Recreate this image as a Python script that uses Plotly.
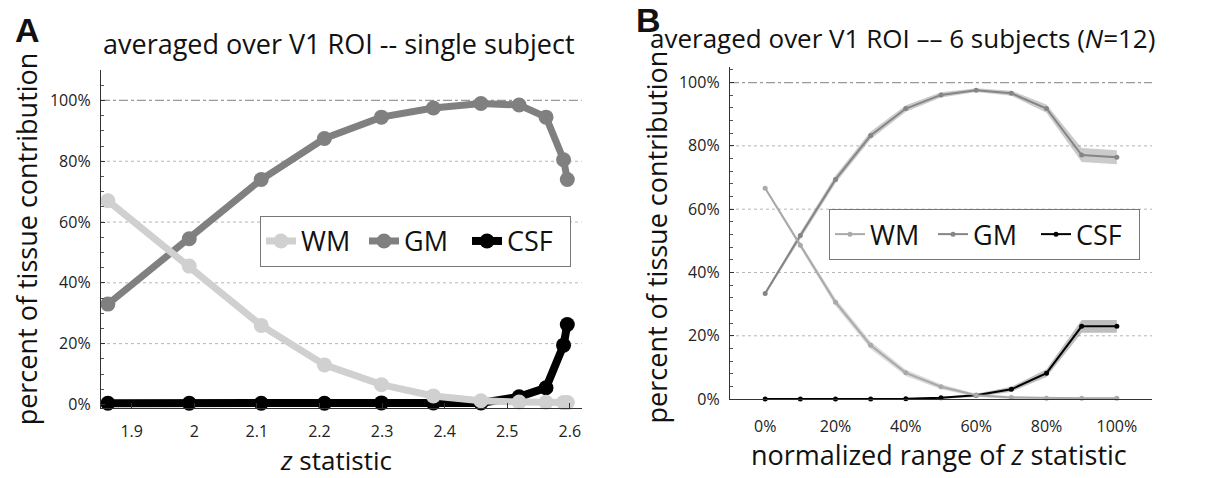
import plotly.graph_objects as go

W, H = 1219, 478

# ---------------- Panel A data (single subject) ----------------
z_A = [1.862, 1.992, 2.107, 2.208, 2.299, 2.382, 2.458, 2.519, 2.562, 2.590, 2.596]
wm_A = [67.0, 45.5, 26.0, 13.0, 6.5, 2.8, 1.2, 0.8, 0.7, 0.6, 0.6]
gm_A = [33.0, 54.5, 74.0, 87.5, 94.5, 97.5, 99.0, 98.5, 94.5, 80.5, 74.0]
csf_A = [0.4, 0.4, 0.4, 0.4, 0.5, 0.5, 0.5, 2.5, 5.5, 19.5, 26.3]

xtick_vals_A = [1.9, 2.0, 2.1, 2.2, 2.3, 2.4, 2.5, 2.6]
xtick_text_A = ["1.9", "2", "2.1", "2.2", "2.3", "2.4", "2.5", "2.6"]

# ---------------- Panel B data (6 subjects) ----------------
pct_B = [0, 10, 20, 30, 40, 50, 60, 70, 80, 90, 100]
wm_B = [66.6, 48.6, 30.6, 17.0, 8.3, 3.9, 1.2, 0.5, 0.3, 0.3, 0.3]
gm_B = [33.4, 51.7, 69.4, 83.3, 91.8, 96.1, 97.6, 96.6, 91.8, 77.1, 76.4]
csf_B = [0.0, 0.0, 0.0, 0.0, 0.1, 0.4, 1.2, 3.1, 8.2, 23.0, 23.0]
wm_sem = [0.5, 1.0, 1.2, 1.2, 1.0, 0.8, 0.5, 0.4, 0.3, 0.3, 0.3]
gm_sem = [0.5, 1.0, 1.2, 1.2, 1.0, 0.8, 0.6, 0.8, 1.3, 2.2, 2.2]
csf_sem = [0.1, 0.1, 0.1, 0.1, 0.2, 0.3, 0.5, 0.8, 1.2, 2.0, 2.0]

xtick_vals_B = [0, 20, 40, 60, 80, 100]
xtick_text_B = ["0%", "20%", "40%", "60%", "80%", "100%"]

ytick_vals = [0, 20, 40, 60, 80, 100]
ytick_text = ["0%", "20%", "40%", "60%", "80%", "100%"]

FONT = "Open Sans"
C_WM_A, C_GM_A, C_CSF_A = "#d0d0d0", "#808080", "#000000"
C_WM_B, C_GM_B, C_CSF_B = "#a9a9a9", "#858585", "#000000"

fig = go.Figure()

# Panel A traces (drawn CSF, GM, WM so WM sits on top)
for name, vals, col, lw in [("CSF", csf_A, C_CSF_A, 8), ("GM", gm_A, C_GM_A, 7), ("WM", wm_A, C_WM_A, 7)]:
    fig.add_trace(go.Scatter(
        x=z_A, y=vals, name=name, mode="lines+markers",
        line=dict(color=col, width=lw), marker=dict(color=col, size=15),
        xaxis="x", yaxis="y", legend="legend", cliponaxis=False))

# Panel B bands + traces
bands = [("CSF", csf_B, csf_sem, C_CSF_B, "rgba(110,110,110,0.45)"),
         ("GM", gm_B, gm_sem, C_GM_B, "rgba(140,140,140,0.45)"),
         ("WM", wm_B, wm_sem, C_WM_B, "rgba(175,175,175,0.45)")]
for name, vals, sem, col, fillcol in bands:
    upper = [v + s for v, s in zip(vals, sem)]
    lower = [max(v - s, 0) for v, s in zip(vals, sem)]
    fig.add_trace(go.Scatter(x=pct_B, y=upper, mode="lines", line=dict(width=0, color=fillcol),
                             showlegend=False, xaxis="x2", yaxis="y2", hoverinfo="skip"))
    fig.add_trace(go.Scatter(x=pct_B, y=lower, mode="lines", line=dict(width=0, color=fillcol),
                             fill="tonexty", fillcolor=fillcol,
                             showlegend=False, xaxis="x2", yaxis="y2", hoverinfo="skip"))
for name, vals, sem, col, fillcol in bands:
    fig.add_trace(go.Scatter(
        x=pct_B, y=vals, name=name, mode="lines+markers",
        line=dict(color=col, width=2), marker=dict(color=col, size=5),
        xaxis="x2", yaxis="y2", legend="legend2", cliponaxis=False))

axis_common = dict(showline=True, linecolor="#333333", linewidth=1.3, ticks="inside",
                   tickcolor="#333333", showgrid=False, zeroline=False,
                   tickfont=dict(family=FONT, size=16, color="#222222"))

legend_common = dict(xanchor="left", yanchor="top", orientation="h", traceorder="reversed",
                     bordercolor="#777777", borderwidth=1, bgcolor="white",
                     entrywidth=58, entrywidthmode="pixels",
                     font=dict(family=FONT, size=27, color="#111111"))

fig.update_layout(
    width=W, height=H, margin=dict(l=0, r=0, t=0, b=0),
    paper_bgcolor="white", plot_bgcolor="white", showlegend=True,
    xaxis=dict(domain=[101 / W, 581.7 / W], range=[1.851, 2.619], anchor="y",
               tickvals=xtick_vals_A, ticktext=xtick_text_A, ticklen=5,
               ticklabelstandoff=8, **axis_common),
    yaxis=dict(domain=[1 - 418 / H, 1 - 71.7 / H], range=[-1.3, 110], anchor="x",
               tickvals=ytick_vals, ticktext=ytick_text, ticklen=4,
               ticklabelstandoff=6,
               minor=dict(tickmode="linear", tick0=0, dtick=5, ticks="inside", ticklen=2.5,
                          tickcolor="#555555"),
               **axis_common),
    xaxis2=dict(domain=[730 / W, 1152 / W], range=[-10, 110], anchor="y2",
                tickvals=xtick_vals_B, ticktext=xtick_text_B, ticklen=0,
                ticklabelstandoff=13, **axis_common),
    yaxis2=dict(domain=[1 - 408.5 / H, 1 - 68.3 / H], range=[0, 105], anchor="x2",
                tickvals=ytick_vals, ticktext=ytick_text, ticklen=4,
                ticklabelstandoff=6,
                minor=dict(tickmode="linear", tick0=0, dtick=4, ticks="inside", ticklen=2.5,
                           tickcolor="#555555"),
                **axis_common),
    legend=dict(x=260 / W, y=1 - 221 / H, **legend_common),
    legend2=dict(x=829 / W, y=1 - 214 / H, **legend_common),
)

# grid lines (dotted) and 100% reference (dash-dot)
for xr, yr in [("x domain", "y"), ("x2 domain", "y2")]:
    for v in ytick_vals[1:-1]:
        fig.add_shape(type="line", xref=xr, yref=yr, x0=0, x1=1, y0=v, y1=v, layer="below",
                      line=dict(color="#b5b5b5", width=1, dash="dot"))
    fig.add_shape(type="line", xref=xr, yref=yr, x0=0, x1=1, y0=ytick_vals[-1], y1=ytick_vals[-1],
                  layer="below", line=dict(color="#999999", width=1.2, dash="dashdot"))

def ann(text, x, y, size, rot=0, family=FONT, xanchor="center"):
    fig.add_annotation(text=text, x=x / W, y=1 - y / H, xref="paper", yref="paper",
                       xanchor=xanchor, yanchor="middle", showarrow=False, textangle=rot,
                       font=dict(family=family, size=size, color="#111111"))

ann("<b>A</b>", 13, 31, 34, family="Liberation Sans", xanchor="left")
ann("<b>B</b>", 634, 20, 34, family="Liberation Sans", xanchor="left")
ann("averaged over V1 ROI -- single subject", 339, 45, 27)
ann("averaged over V1 ROI –– 6 subjects (<i>N</i>=12)", 902, 39, 26)
ann("percent of tissue contribution", 26, 245, 27, rot=-90)
ann("percent of tissue contribution", 656, 243, 27, rot=-90)
ann("<i>z</i> statistic", 336, 471, 26)
ann("normalized range of <i>z</i> statistic", 939, 465, 27)

fig.write_html("out.html")
